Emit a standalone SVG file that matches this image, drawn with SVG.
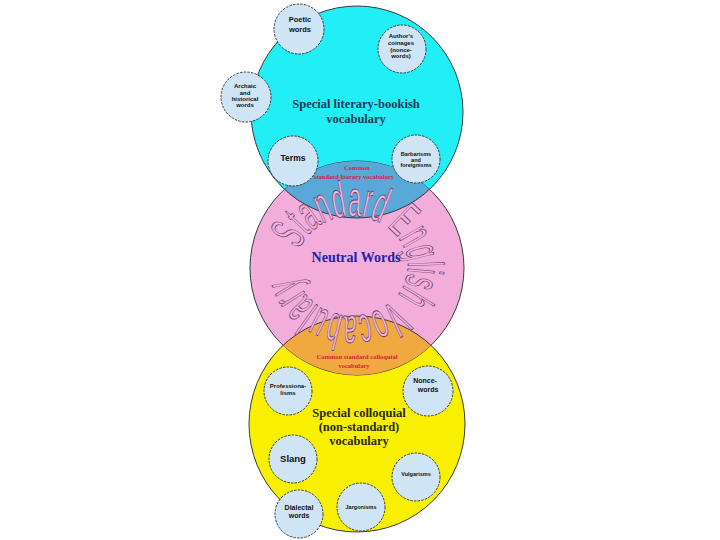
<svg xmlns="http://www.w3.org/2000/svg" width="720" height="540" viewBox="0 0 720 540">
<style>
.big{stroke:#3a3a3a;stroke-width:1}
.sm{fill:#cfe5f5;stroke:#2a2a2a;stroke-width:0.9;stroke-dasharray:2.5 1.2}
.st{font-family:"Liberation Sans",Arial,sans-serif;font-weight:bold;fill:#111;text-anchor:middle}
.title{font-family:"Liberation Serif","Times New Roman",serif;font-weight:bold;text-anchor:middle}
.lens{font-family:"Liberation Serif","Times New Roman",serif;font-weight:bold;fill:#d8203c;font-size:6.5px;text-anchor:middle}
</style>
<defs>
<clipPath id="clipPink"><circle cx="357" cy="268" r="107"/></clipPath>
<path id="arc" d="M299.05,249.7 A56,50 0 0 1 404.95,282.3 A56,50 0 0 1 299.05,249.7"/>
</defs>
<rect width="720" height="540" fill="#ffffff"/>
<g id="literary-bookish">
<circle class="big" cx="357" cy="112" r="106" fill="#22eef5"/>
</g>
<g id="colloquial">
<circle class="big" cx="357" cy="424" r="108" fill="#f8f000"/>
</g>
<g id="neutral">
<circle class="big" cx="357" cy="268" r="107" fill="#f2addb"/>
</g>
<g id="common-literary">
<circle class="big" cx="357" cy="112" r="106" fill="#58a8d8" clip-path="url(#clipPink)"/>
</g>
<g id="common-colloquial">
<circle class="big" cx="357" cy="424" r="108" fill="#f0a840" clip-path="url(#clipPink)"/>
</g>
<g id="standard-english-label">
<text font-family="'Liberation Sans',Arial,sans-serif" font-size="50" fill="#f4b4e0" stroke="#6a3a6a" stroke-width="0.9"><textPath href="#arc" textLength="306" lengthAdjust="spacingAndGlyphs">Standard English Vocabulary</textPath></text>
</g>
<g id="titles">
<text class="title" x="356" y="108" font-size="12.5" fill="#1c3a56">Special literary-bookish</text>
<text class="title" x="356" y="123" font-size="12.5" fill="#1c3a56">vocabulary</text>
<text class="title" x="356" y="262" font-size="14" fill="#2222a8">Neutral  Words</text>
<text class="title" x="359" y="417" font-size="12.5" fill="#2a2a10">Special colloquial</text>
<text class="title" x="359" y="431" font-size="12.5" fill="#2a2a10">(non-standard)</text>
<text class="title" x="359" y="445" font-size="12.5" fill="#2a2a10">vocabulary</text>
<text class="lens" x="357" y="170">Common</text>
<text class="lens" x="354" y="179">standard literary vocabulary</text>
<text class="lens" x="357" y="359">Common standard colloquial</text>
<text class="lens" x="354" y="368">vocabulary</text>
</g>
<g id="poetic-words">
<circle class="sm" cx="299" cy="29" r="25"/>
<text class="st" x="300" y="22" font-size="7.5">Poetic</text>
<text class="st" x="300" y="32" font-size="7.5">words</text>
</g>
<g id="authors-coinages">
<circle class="sm" cx="402" cy="49" r="24"/>
<text class="st" x="401" y="38" font-size="6">Author's</text>
<text class="st" x="401" y="45" font-size="6">coinages</text>
<text class="st" x="401" y="51.5" font-size="6">(nonce-</text>
<text class="st" x="401" y="58" font-size="6">words)</text>
</g>
<g id="archaic-words">
<circle class="sm" cx="246" cy="97" r="25"/>
<text class="st" x="245" y="88" font-size="6">Archaic</text>
<text class="st" x="245" y="95" font-size="6">and</text>
<text class="st" x="245" y="101" font-size="6">historical</text>
<text class="st" x="245" y="107" font-size="6">words</text>
</g>
<g id="terms">
<circle class="sm" cx="293" cy="161" r="25"/>
<text class="st" x="293" y="161" font-size="8.5">Terms</text>
</g>
<g id="barbarisms">
<circle class="sm" cx="416" cy="159" r="24"/>
<text class="st" x="416" y="156" font-size="5.5">Barbarisms</text>
<text class="st" x="416" y="161.5" font-size="5.5">and</text>
<text class="st" x="416" y="167" font-size="5.5">foreignisms</text>
</g>
<g id="professionalisms">
<circle class="sm" cx="288" cy="391" r="24"/>
<text class="st" x="288" y="388" font-size="6">Professiona-</text>
<text class="st" x="288" y="395" font-size="6">lisms</text>
</g>
<g id="nonce-words">
<circle class="sm" cx="428" cy="391" r="25"/>
<text class="st" x="425" y="383" font-size="7">Nonce-</text>
<text class="st" x="428" y="392" font-size="7">words</text>
</g>
<g id="slang">
<circle class="sm" cx="293" cy="459" r="24"/>
<text class="st" x="293" y="462" font-size="9.5">Slang</text>
</g>
<g id="vulgarisms">
<circle class="sm" cx="416" cy="477" r="24"/>
<text class="st" x="416" y="476" font-size="5.5">Vulgarisms</text>
</g>
<g id="dialectal-words">
<circle class="sm" cx="299" cy="514" r="24"/>
<text class="st" x="299" y="510" font-size="7">Dialectal</text>
<text class="st" x="299" y="518" font-size="7">words</text>
</g>
<g id="jargonisms">
<circle class="sm" cx="361" cy="507" r="24"/>
<text class="st" x="361" y="509" font-size="5.5">Jargonisms</text>
</g>
<g id="connectors"></g>
</svg>
